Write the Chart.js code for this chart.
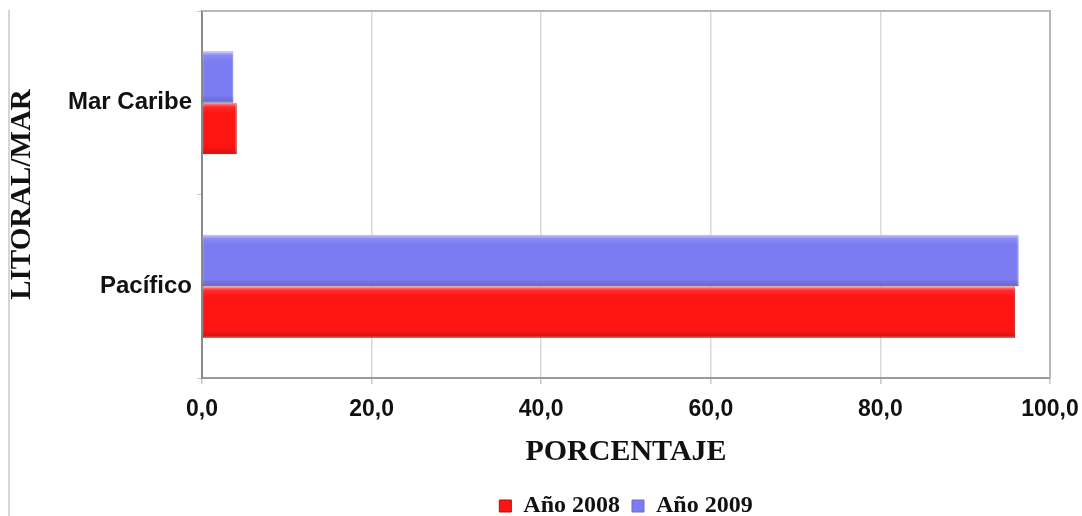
<!DOCTYPE html>
<html>
<head>
<meta charset="utf-8">
<script src="https://cdn.jsdelivr.net/npm/chart.js@4.4.1/dist/chart.umd.min.js"></script>
<style>
  html, body { margin: 0; padding: 0; background: #fff; }
  #wrap { position: relative; width: 1082px; height: 516px; }
  #edge { position: absolute; left: 8px; top: 10px; width: 2px; height: 506px; background: #d6d6d6; }
</style>
</head>
<body>
<div id="wrap">
  <div id="edge"></div>
  <canvas id="litoralChart" width="1082" height="516"></canvas>
</div>
<script>
// Porcentaje por litoral
const litorales = ['Mar Caribe', 'Pacífico'];
const anio2008 = [4.1, 95.9];
const anio2009 = [3.7, 96.3];
const xTicks = [0, 20, 40, 60, 80, 100];

const serif = '"Liberation Serif", "DejaVu Serif", serif';
const sans = '"Liberation Sans", Arial, sans-serif';

// frame around the plot area
const plotFrame = {
    id: 'plotFrame',
    beforeDatasetsDraw(chart) {
        const { ctx, chartArea: a } = chart;
        ctx.save();
        ctx.strokeStyle = '#b8b8b8';
        ctx.lineWidth = 2;
        ctx.beginPath();
        ctx.moveTo(a.left, a.top);
        ctx.lineTo(a.right, a.top);
        ctx.lineTo(a.right, a.bottom);
        ctx.stroke();
        ctx.restore();
    }
};

// light top edge / darker bottom edge to give the bars some relief
const barBevel = {
    id: 'barBevel',
    afterDatasetsDraw(chart) {
        const ctx = chart.ctx;
        chart.data.datasets.forEach((ds, i) => {
            chart.getDatasetMeta(i).data.forEach(bar => {
                const { x, y, base, height } = bar.getProps(['x', 'y', 'base', 'height'], true);
                const top = y - height / 2;
                const g = ctx.createLinearGradient(0, top, 0, top + height);
                g.addColorStop(0, 'rgba(255,255,255,0.55)');
                g.addColorStop(0.08, 'rgba(255,255,255,0.1)');
                g.addColorStop(0.2, 'rgba(255,255,255,0)');
                g.addColorStop(0.85, 'rgba(0,0,0,0)');
                g.addColorStop(1, 'rgba(0,0,0,0.18)');
                ctx.save();
                ctx.fillStyle = g;
                ctx.fillRect(base, top, x - base, height);
                ctx.restore();
            });
        });
    }
};

// center the legend under the plot and drop it to the bottom edge
const legendPlace = {
    id: 'legendPlace',
    afterLayout(chart) {
        const lg = chart.legend;
        const a = chart.chartArea;
        const dx = (a.left + a.right) / 2 - (lg.left + lg.right) / 2;
        lg.left += dx;
        lg.right += dx;
        const dy = 482 - lg.top;
        lg.top += dy;
        lg.bottom += dy;
    }
};

new Chart(document.getElementById('litoralChart'), {
    type: 'bar',
    data: {
        labels: litorales,
        // 2009 first so it sits above 2008 in each group
        datasets: [{
            label: 'Año 2009',
            data: anio2009,
            backgroundColor: '#7c7cf2',
            borderColor: '#6a6ad8',
            borderWidth: 1,
            borderSkipped: false
        }, {
            label: 'Año 2008',
            data: anio2008,
            backgroundColor: '#ff1414',
            borderColor: '#a81010',
            borderWidth: 1,
            borderSkipped: false
        }]
    },
    options: {
        indexAxis: 'y',
        responsive: false,
        animation: false,
        layout: { padding: { left: 2, right: 32, top: 11, bottom: 0 } },
        datasets: {
            bar: { categoryPercentage: 0.56, barPercentage: 1.0 }
        },
        scales: {
            x: {
                min: 0,
                max: 100,
                afterBuildTicks: s => { s.ticks = xTicks.map(v => ({ value: v })); },
                ticks: {
                    padding: 12,
                    color: '#111',
                    font: { family: sans, size: 23, weight: 'bold' },
                    callback: v => v.toFixed(1).replace('.', ',')
                },
                grid: { color: '#d9d9d9', lineWidth: 1.5, tickLength: 6, tickColor: '#c8c8c8' },
                border: { color: '#9a9a9a', width: 2 },
                title: {
                    display: true,
                    text: 'PORCENTAJE',
                    color: '#111',
                    font: { family: serif, size: 30, weight: 'bold' },
                    padding: { top: 11, bottom: 0 }
                },
                afterFit: s => { s.height = 92; s.paddingLeft = 0; s.paddingRight = 0; }
            },
            y: {
                ticks: {
                    padding: 5,
                    color: '#111',
                    font: { family: sans, size: 24, weight: 'bold' }
                },
                grid: { drawOnChartArea: false, tickLength: 5, tickColor: '#c8c8c8' },
                border: { color: '#8a8a8a', width: 2 },
                title: {
                    display: true,
                    text: 'LITORAL/MAR',
                    color: '#111',
                    font: { family: serif, size: 29, weight: 'bold' },
                    padding: { top: 3, bottom: 0 }
                },
                afterFit: s => { s.width = 200; s.paddingTop = 0; s.paddingBottom = 0; }
            }
        },
        plugins: {
            tooltip: { enabled: false },
            legend: {
                position: 'bottom',
                reverse: true,
                labels: {
                    color: '#111',
                    boxWidth: 12,
                    boxHeight: 12,
                    padding: 12,
                    font: { family: serif, size: 24, weight: 'bold' }
                }
            }
        }
    },
    plugins: [plotFrame, barBevel, legendPlace]
});
</script>
</body>
</html>
